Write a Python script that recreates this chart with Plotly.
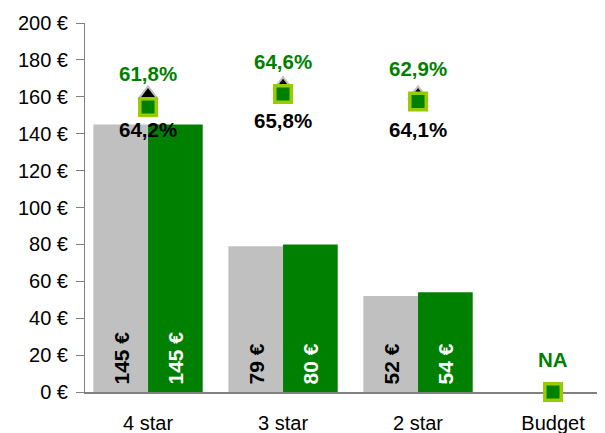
import plotly.graph_objects as go

categories = ["4 star", "3 star", "2 star", "Budget"]
prev_price = [145, 79, 52, None]
curr_price = [145, 80, 54, None]
curr_marker = [154.5, 161.5, 157.5, 0]
prev_marker = [161, 166, 161, None]
curr_labels = ["61,8%", "64,6%", "62,9%", "NA"]
prev_labels = ["64,2%", "65,8%", "64,1%", ""]
y_ticks = [0, 20, 40, 60, 80, 100, 120, 140, 160, 180, 200]

FONT = "Liberation Sans, Arial, sans-serif"
GREEN = "#008000"
GRAY = "#C0C0C0"

fig = go.Figure()
fig.add_trace(go.Bar(x=categories, y=prev_price, marker_color=GRAY, marker_line_width=0))
fig.add_trace(go.Bar(x=categories, y=curr_price, marker_color=GREEN, marker_line_width=0))
fig.add_trace(go.Scatter(
    x=categories, y=prev_marker, mode="markers", cliponaxis=False,
    marker=dict(symbol="triangle-up", size=17, color="#000000",
                line=dict(color=GRAY, width=2)),
))
fig.add_trace(go.Scatter(
    x=categories, y=curr_marker, mode="markers", cliponaxis=False,
    marker=dict(symbol="square", size=16.5, color=GREEN,
                line=dict(color="#99CC00", width=3.5)),
))

# rotated value labels at bar bases
for vals, shift, col in ((prev_price, -27, "#000000"), (curr_price, 27, "#FFFFFF")):
    for c, v in zip(categories, vals):
        if v is None:
            continue
        fig.add_annotation(x=c, y=0, text=f"<b>{v} €</b>", showarrow=False,
                           textangle=-90, xshift=shift, yanchor="bottom", yshift=5,
                           font=dict(family=FONT, size=21, color=col))

for c, v, t in zip(categories, curr_marker, curr_labels):
    fig.add_annotation(x=c, y=v, text="<b>" + t + "</b>", showarrow=False,
                       yshift=33, font=dict(family=FONT, size=20.5, color=GREEN))
for c, v, t in zip(categories, prev_marker, prev_labels):
    if v is None or not t:
        continue
    fig.add_annotation(x=c, y=v, text="<b>" + t + "</b>", showarrow=False,
                       yshift=-35, font=dict(family=FONT, size=20.5, color="#000000"))

fig.update_layout(
    width=597, height=425,
    margin=dict(l=77, r=0, t=15, b=41),
    paper_bgcolor="white", plot_bgcolor="white",
    showlegend=False, barmode="group", bargap=0.19, bargroupgap=0,
    font=dict(family=FONT, size=20, color="#000000"),
)
fig.update_xaxes(
    type="category", range=[-0.467, 3.385], showgrid=False,
    showline=True, linecolor="#808080", linewidth=1.5, ticks="",
    layer="below traces", ticklabelstandoff=12, automargin=False,
    tickfont=dict(family=FONT, size=20, color="#000000"),
)
fig.update_yaxes(
    range=[0, 200], tickvals=y_ticks, ticktext=[f"{v} €" for v in y_ticks],
    showgrid=False, zeroline=False, showline=True, linecolor="#808080",
    linewidth=1, ticks="outside", ticklen=8, tickcolor="#808080",
    ticklabelstandoff=4, automargin=False,
    tickfont=dict(family=FONT, size=20, color="#000000"),
)

fig.write_html("out.html")
